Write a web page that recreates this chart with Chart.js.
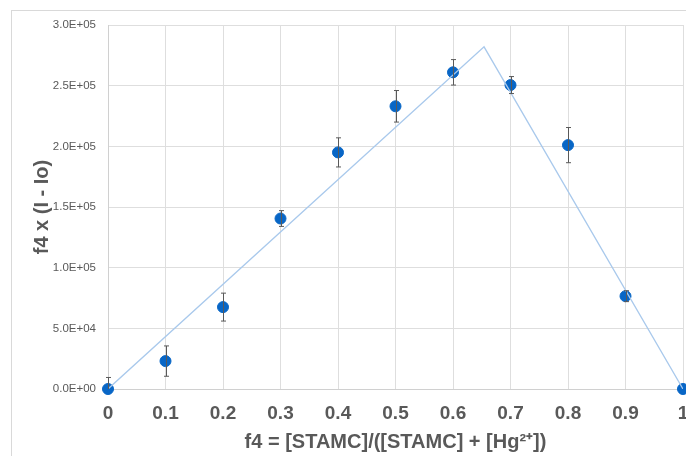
<!DOCTYPE html>
<html>
<head>
<meta charset="utf-8">
<script src="https://cdn.jsdelivr.net/npm/chart.js@4.4.0/dist/chart.umd.min.js"></script>
<style>
  html, body { margin: 0; padding: 0; background: #fff; }
  #wrap { position: relative; width: 686px; height: 456px; overflow: hidden; }
  #frame { position: absolute; left: 11px; top: 10px; width: 700px; height: 460px; border: 1px solid #d9d9d9; box-sizing: border-box; }
  #c { position: absolute; left: 0; top: 0; }
</style>
</head>
<body>
<div id="wrap">
  <div id="frame"></div>
  <canvas id="c" width="686" height="456"></canvas>
</div>
<script>
// measured points
const fractions = [0, 0.1, 0.2, 0.3, 0.4, 0.5, 0.6, 0.7, 0.8, 0.9, 1];
const signal = [0, 23000, 67500, 140500, 195000, 233000, 261000, 250500, 201000, 76500, 0];
const errors = [9500, 12500, 11500, 6500, 12000, 13000, 10500, 7000, 14500, 4500, 0];

// the two straight trend lines meeting at the apex
const trendX = [0, 0.654, 1];
const trendY = [0, 282000, 0];

const yTicks = [0, 50000, 100000, 150000, 200000, 250000, 300000];

function fmtExp(v) {
  if (v === 0) return '0.0E+00';
  const e = Math.floor(Math.log10(v));
  const m = v / Math.pow(10, e);
  return m.toFixed(1) + 'E+' + String(e).padStart(2, '0');
}

const errorBars = {
  id: 'errorBars',
  afterDatasetDraw(chart, args) {
    if (args.index !== 0) return;
    const { ctx, scales: { x, y } } = chart;
    ctx.save();
    ctx.strokeStyle = '#595959';
    ctx.lineWidth = 1;
    fractions.forEach((f, i) => {
      if (!errors[i]) return;
      const px = Math.round(x.getPixelForValue(f)) + 0.5;
      const top = y.getPixelForValue(signal[i] + errors[i]);
      const bot = y.getPixelForValue(Math.max(signal[i] - errors[i], 0));
      ctx.beginPath();
      ctx.moveTo(px, top); ctx.lineTo(px, bot);
      ctx.moveTo(px - 2.5, top); ctx.lineTo(px + 2.5, top);
      if (signal[i] - errors[i] > 0) { ctx.moveTo(px - 2.5, bot); ctx.lineTo(px + 2.5, bot); }
      ctx.stroke();
    });
    ctx.restore();
  }
};

new Chart(document.getElementById('c'), {
  type: 'scatter',
  data: {
    datasets: [{
      type: 'line',
      data: trendX.map((x, i) => ({ x, y: trendY[i] })),
      borderColor: '#a9c9ec',
      borderWidth: 1.3,
      pointRadius: 0,
      fill: false,
      tension: 0
    }, {
      data: fractions.map((x, i) => ({ x, y: signal[i] })),
      backgroundColor: '#0866c6',
      borderColor: '#0866c6',
      pointRadius: 5.5,
      clip: false
    }]
  },
  options: {
    responsive: false,
    animation: false,
    layout: { autoPadding: false, padding: { top: 25, right: 3, left: 0, bottom: 0 } },
    plugins: { legend: { display: false }, tooltip: { enabled: false } },
    scales: {
      x: {
        type: 'linear', min: 0, max: 1,
        afterBuildTicks(s) { s.ticks = fractions.map(v => ({ value: v })); },
        afterFit(s) { s.height = 67; s.paddingLeft = 0; s.paddingRight = 0; },
        grid: { color: '#dedede', drawTicks: false },
        border: { color: '#d0d0d0' },
        ticks: {
          padding: 13,
          color: '#595959',
          font: { family: 'Liberation Sans', size: 19, weight: 'bold' },
          callback: v => String(v)
        },
        title: {
          display: true,
          text: 'f4 = [STAMC]/([STAMC] + [Hg²⁺])',
          color: '#595959',
          font: { family: 'Liberation Sans', size: 20, weight: 'bold' },
          padding: { top: 0, bottom: 2 }
        }
      },
      y: {
        min: 0, max: 300000,
        afterBuildTicks(s) { s.ticks = yTicks.map(v => ({ value: v })); },
        afterFit(s) { s.width = 108; s.paddingTop = 0; s.paddingBottom = 0; },
        grid: { color: '#dedede', drawTicks: false },
        border: { color: '#d0d0d0' },
        ticks: {
          padding: 12,
          color: '#595959',
          font: { family: 'Liberation Sans', size: 11.5 },
          callback: v => fmtExp(v)
        },
        title: {
          display: true,
          text: 'f4 x (I - Io)',
          color: '#595959',
          font: { family: 'Liberation Sans', size: 20, weight: 'bold' },
          padding: { top: 30, bottom: 0 }
        }
      }
    }
  },
  plugins: [errorBars]
});
</script>
</body>
</html>
